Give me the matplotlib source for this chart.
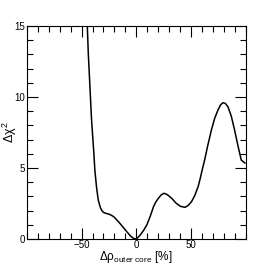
import numpy as np
import matplotlib
matplotlib.use("Agg")
import matplotlib.pyplot as plt
from matplotlib.ticker import MultipleLocator, FixedLocator

# values
drho = [-45.3, -44.8, -43.9, -42.4, -40.9, -38.8, -37.9, -36.4, -34.8, -33.6, -32.7,
        -31.2, -29.7, -27.5, -25.2, -23.0, -20.6, -15.5, -11.5, -8.5, -5.5, -3.0,
        -0.9, 1.2, 3.6, 6.5, 9.7, 12.8, 15.8, 18.0, 20.3, 23.0, 25.5, 28.5, 32.4,
        36.5, 40.5, 44.5, 47.5, 50.6, 53.5, 56.6, 58.2, 59.7, 62.7, 65.5, 68.8,
        71.8, 74.8, 77.2, 79.4, 81.5, 83.9, 87.0, 90.0, 93.0, 96.1, 99.5]
dchi2 = [16.0, 15.0, 13.08, 10.73, 8.38, 6.03, 4.86, 3.68, 2.75, 2.42, 2.18,
         1.97, 1.86, 1.80, 1.76, 1.68, 1.57, 1.15, 0.78, 0.50, 0.23, 0.07,
         0.0, 0.08, 0.28, 0.58, 0.99, 1.60, 2.28, 2.62, 2.87, 3.12, 3.22, 3.12, 2.87,
         2.52, 2.30, 2.23, 2.36, 2.63, 3.05, 3.68, 4.15, 4.65, 5.60, 6.60, 7.68,
         8.50, 9.08, 9.45, 9.60, 9.55, 9.32, 8.65, 7.68, 6.60, 5.56, 5.35]

plt.rcParams['font.family'] = ['Liberation Sans', 'DejaVu Sans']
plt.rcParams['mathtext.fontset'] = 'custom'
plt.rcParams['mathtext.rm'] = 'Liberation Sans'
plt.rcParams['mathtext.it'] = 'Liberation Sans'

fig = plt.figure(figsize=(2.73, 2.66), dpi=100)
ax = fig.add_axes([27/273, 1-239/266, (245.5-27)/273, (239-26)/266])
ax.plot(drho, dchi2, color="black", lw=1.1)
ax.set_xlim(-100, 100)
ax.set_ylim(0, 15)

ax.xaxis.set_major_locator(FixedLocator([-50, 0, 50]))
ax.xaxis.set_minor_locator(MultipleLocator(10))
ax.yaxis.set_major_locator(MultipleLocator(5))
ax.yaxis.set_minor_locator(MultipleLocator(1))
ax.tick_params(which="both", direction="in", top=True, right=True, labelsize=7, pad=1.5, width=0.8)
ax.tick_params(axis="x", pad=0.5)
ax.tick_params(which="major", length=8)
ax.tick_params(which="minor", length=4)
for s in ax.spines.values():
    s.set_linewidth(0.8)
ax.set_xticklabels(["\u221250", "0", "50"])

fig.text(136/273, 1-260/266, r"$\mathrm{\Delta\rho}_{\mathrm{outer\ core}}$ [%]",
         fontsize=8.5, ha="center", va="baseline")
fig.text(10/273, 1-132/266, r"$\mathrm{\Delta\chi}^{2}$", fontsize=9,
         rotation=90, ha="center", va="center")

plt.savefig("out.png", dpi=100)
